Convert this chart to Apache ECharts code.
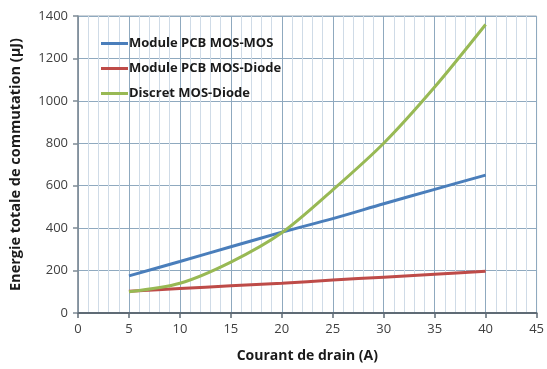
<!DOCTYPE html>
<html><head><meta charset="utf-8">
<script src="https://cdn.jsdelivr.net/npm/echarts@6/dist/echarts.min.js"></script>
<style>html,body{margin:0;padding:0;background:#fff;}#c{width:547px;height:369px;}</style>
</head><body><div id="c"></div>
<script>
const xValues = [5, 10, 15, 20, 25, 30, 35, 40];
const seriesNames = ['Module PCB MOS-MOS', 'Module PCB MOS-Diode', 'Discret MOS-Diode'];
const mosMos = [175, 243, 312, 381, 445, 515, 583, 650];
const mosDiode = [102, 115, 128, 140, 155, 169, 183, 197];
const discret = [100, 140, 240, 378, 580, 800, 1065, 1360];
const colors = ['#4a7ebb', '#be4b48', '#98b954'];

const chart = echarts.init(document.getElementById('c'));
const font = '"Open Sans", "Liberation Sans", sans-serif';
function pairs(ys){ return xValues.map((x,i)=>[x, ys[i]]); }
chart.setOption({
  animation: false,
  backgroundColor: '#fff',
  grid: {left: 77, right: 8, top: 16, bottom: 56, containLabel: false,
         show: true, borderColor: '#9aa8b4', borderWidth: 1},
  legend: {
    orient: 'vertical', left: 96, top: 31, itemGap: 10,
    itemWidth: 27, itemHeight: 3, icon: 'rect',
    textStyle: {fontFamily: font, fontWeight: 'bold', fontSize: 13, lineHeight: 15, color: '#1a1a1a', padding: [0,0,0,-4]},
    data: seriesNames
  },
  xAxis: {
    type: 'value', min: 0, max: 45, interval: 5,
    name: 'Courant de drain (A)', nameLocation: 'middle', nameGap: 36,
    nameTextStyle: {fontFamily: font, fontWeight: 'bold', fontSize: 14, color: '#1a1a1a'},
    axisLine: {show: true, lineStyle: {color: '#5f6b75', width: 2}},
    axisTick: {show: true, length: 5, lineStyle: {color: '#5f6b75', width: 1.5}},
    axisLabel: {fontFamily: font, fontSize: 13, color: '#404040', margin: 10},
    splitLine: {show: true, lineStyle: {color: '#8fa9bf', width: 1}},
    minorTick: {show: false, splitNumber: 5},
    minorSplitLine: {show: true, lineStyle: {color: '#cfdbe7', width: 1}}
  },
  yAxis: {
    type: 'value', min: 0, max: 1400, interval: 200,
    name: 'Energie totale de commutation (µJ)', nameLocation: 'middle', nameGap: 55,
    nameTextStyle: {fontFamily: font, fontWeight: 'bold', fontSize: 14.5, color: '#1a1a1a'},
    axisLine: {show: true, lineStyle: {color: '#7d8a95', width: 1.5}},
    axisTick: {show: true, length: 5, lineStyle: {color: '#7d8a95', width: 1.5}},
    axisLabel: {fontFamily: font, fontSize: 13, color: '#404040', margin: 10, formatter: v => String(v)},
    splitLine: {show: true, lineStyle: {color: '#8fa9bf', width: 1}}
  },
  series: [mosMos, mosDiode, discret].map((d,i)=>({
    name: seriesNames[i], type: 'line', data: pairs(d), smooth: 0.3,
    showSymbol: false, symbol: 'none', color: colors[i],
    lineStyle: {color: colors[i], width: 3}
  }))
});
</script></body></html>
